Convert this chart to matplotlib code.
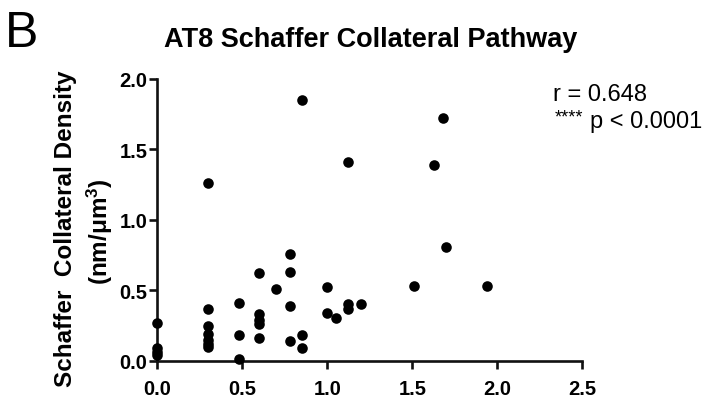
import matplotlib as mpl

mpl.use("Agg")

import matplotlib.pyplot as plt

# density vs. x
x_vals = [
    0.0, 0.0, 0.0, 0.0,
    0.30, 0.30, 0.30, 0.30, 0.30, 0.30, 0.30,
    0.48, 0.48, 0.48,
    0.60, 0.60, 0.60, 0.60, 0.60,
    0.70,
    0.78, 0.78, 0.78, 0.78,
    0.85, 0.85, 0.85,
    1.00, 1.00, 1.05,
    1.12, 1.12, 1.12,
    1.20,
    1.51,
    1.63, 1.68, 1.70,
    1.94,
]
y_vals = [
    0.27, 0.09, 0.06, 0.04,
    1.26, 0.37, 0.25, 0.19, 0.15, 0.12, 0.10,
    0.41, 0.18, 0.01,
    0.62, 0.33, 0.29, 0.26, 0.16,
    0.51,
    0.76, 0.63, 0.39, 0.14,
    1.85, 0.18, 0.09,
    0.52, 0.34, 0.30,
    1.41, 0.40, 0.37,
    0.40,
    0.53,
    1.39, 1.72, 0.81,
    0.53,
]

TITLE = "AT8 Schaffer Collateral Pathway"
YLABEL_1 = "Schaffer  Collateral Density"
YLABEL_2 = "(nm/\u03bcm$^3$)"
X_TICKS = [0.0, 0.5, 1.0, 1.5, 2.0, 2.5]
Y_TICKS = [0.0, 0.5, 1.0, 1.5, 2.0]

mpl.rcParams.update(
    {
        "font.family": ["Liberation Sans", "DejaVu Sans"],
        "mathtext.fontset": "custom",
        "mathtext.rm": "Liberation Sans",
        "mathtext.bf": "Liberation Sans:bold",
        "mathtext.default": "regular",
    }
)

fig = plt.figure(figsize=(7.07, 4.02), dpi=100)
ax = fig.add_axes([0.2225, 0.1002, 0.601, 0.7008])

ax.scatter(x_vals, y_vals, s=58, c="black", linewidths=0, clip_on=False, zorder=3)

ax.set_xlim(0, 2.5)
ax.set_ylim(0, 2.0)
ax.set_xticks(X_TICKS)
ax.set_yticks(Y_TICKS)
ax.set_xticklabels([f"{t:.1f}" for t in X_TICKS], fontsize=14.5, fontweight="bold")
ax.set_yticklabels([f"{t:.1f}" for t in Y_TICKS], fontsize=14.5, fontweight="bold")

for side in ("top", "right"):
    ax.spines[side].set_visible(False)
for side in ("left", "bottom"):
    ax.spines[side].set_linewidth(1.9)
    ax.spines[side].set_color("#111111")
ax.tick_params(axis="both", direction="out", length=5.5, width=1.9, color="#111111")
ax.tick_params(axis="x", pad=8)
ax.tick_params(axis="y", pad=1.5)

fig.text(0.525, 1 - 47 / 402, TITLE, ha="center", va="baseline", fontsize=19.5, fontweight="bold")
fig.text(22 / 707, 1 - 47 / 402, "B", ha="center", va="baseline", fontsize=36)

fig.text(66 / 707, 1 - 229 / 402, YLABEL_1, rotation=90, ha="center", va="center",
         fontsize=17.5, fontweight="bold")
fig.text(100 / 707, 1 - 232 / 402, YLABEL_2, rotation=90, ha="center", va="center",
         fontsize=17.5, fontweight="bold")

fig.text(553 / 707, 1 - 101 / 402, "r = 0.648", ha="left", va="baseline", fontsize=17)
fig.text(555 / 707, 1 - 122 / 402, "****", ha="left", va="baseline", fontsize=13)
fig.text(590 / 707, 1 - 128 / 402, "p < 0.0001", ha="left", va="baseline", fontsize=17)

fig.savefig("out.png", dpi=100, facecolor="white")
